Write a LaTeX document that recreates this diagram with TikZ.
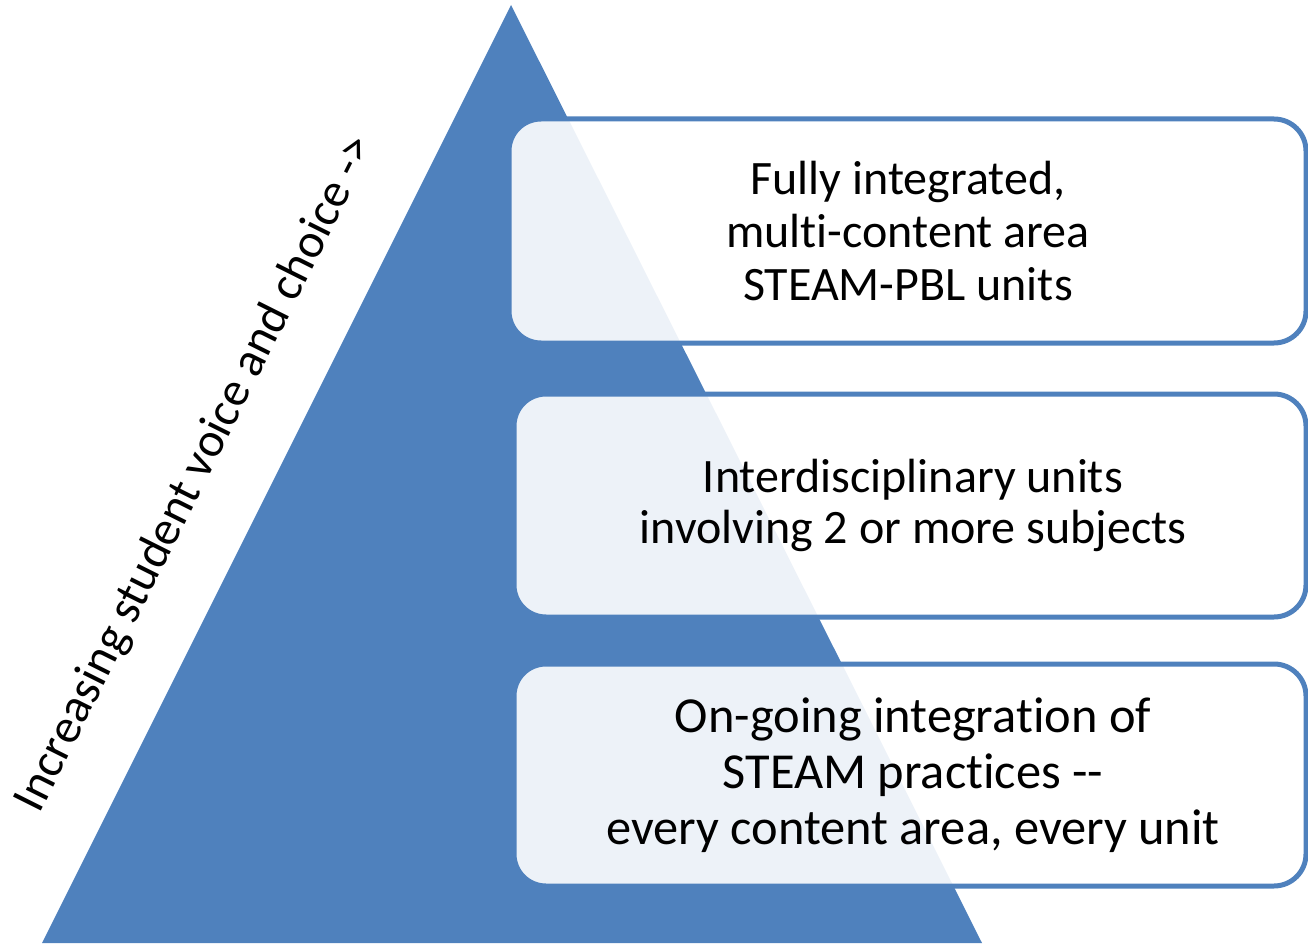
\documentclass[tikz,border=0pt]{standalone}
\usepackage{fontspec}
\setmainfont{Carlito}[Ligatures={TeX,NoCommon}]
\definecolor{pyrblue}{HTML}{4F81BD}
\begin{document}
\begin{tikzpicture}[x=0.5pt,y=-0.5pt,
  levelbox/.style={draw=pyrblue,line width=2.5pt,rounded corners=16pt,fill=white,fill opacity=0.9,draw opacity=1},
  leveltext/.style={align=center,text=black,inner sep=0pt},
  sidetext/.style={font=\fontsize{24.2}{28}\selectfont,text=black,inner sep=0pt,rotate=63.4}]
\useasboundingbox (0,0) rectangle (1308,947);
% pyramid
\fill[pyrblue] (511,5) -- (982,943) -- (42,943) -- cycle;
% level boxes, running off the right edge
\begin{scope}
\clip (0,0) rectangle (1308,947);
\draw[levelbox] (509,119) rectangle (1306,343);
\draw[levelbox] (514,394) rectangle (1306,617);
\draw[levelbox] (514,664) rectangle (1306,886);
\end{scope}
\node[leveltext,font=\fontsize{24}{26.5}\selectfont] (top) at (908,231) {Fully integrated,\\multi-content area\\STEAM-PBL units};
\node[leveltext,font=\fontsize{24}{25.5}\selectfont] (mid) at (913,505) {Interdisciplinary units\\involving 2 or more subjects};
\node[leveltext,font=\fontsize{25.2}{28}\selectfont] (base) at (913,775) {On-going integration of\\STEAM practices -{}-\\every content area, every unit};
\node[sidetext] (voice) at (196,474) {Increasing student voice and choice ->};
\end{tikzpicture}
\end{document}
